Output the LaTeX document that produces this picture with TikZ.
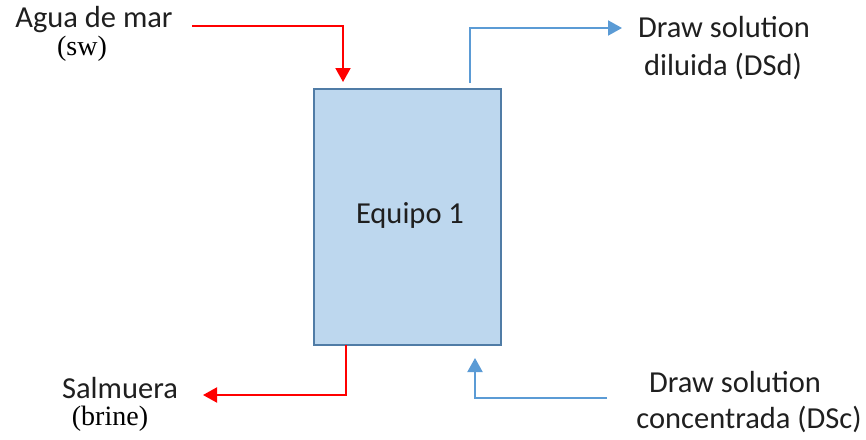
\documentclass[tikz,border=0pt]{standalone}
\usepackage{fontspec}
\setmainfont{Carlito}
\newfontfamily\timesfont{Liberation Serif}
\usetikzlibrary{arrows.meta}
\definecolor{redline}{RGB}{255,0,0}
\definecolor{blueline}{RGB}{91,155,213}
\definecolor{boxfill}{RGB}{189,215,238}
\definecolor{boxdraw}{RGB}{80,124,166}
\begin{document}
\begin{tikzpicture}[x=1pt,y=-1pt,
  sans/.style={font=\fontsize{30.5}{34}\selectfont, anchor=base, inner sep=0pt, text=black!88},
  serif/.style={font=\timesfont\fontsize{28}{32}\selectfont, anchor=base, inner sep=0pt},
  redarrow/.style={draw=redline, line width=2pt, -{Triangle[width=15pt,length=14pt]}},
  bluearrow/.style={draw=blueline, line width=2pt, -{Triangle[width=15pt,length=14pt]}},
  equip/.style={draw=boxdraw, fill=boxfill, line width=2pt, minimum width=187pt, minimum height=256pt, inner sep=0pt}
]
\useasboundingbox (0,0) rectangle (866,439);
\node[equip] (box) at (407.5,217) {};
\node[sans] (eq) at (410,223) {Equipo 1};
\node[sans] (agua) at (94,27) {Agua de mar};
\node[serif] (sw) at (82,55) {(sw)};
\node[sans] (ds1) at (724,37) {Draw solution};
\node[sans] (dsd) at (723,75) {diluida (DSd)};
\node[sans] (salm) at (120,398) {Salmuera};
\node[serif] (brine) at (110,425) {(brine)};
\node[sans] (ds2) at (735,392) {Draw solution};
\node[sans] (dsc) at (749,428) {concentrada (DSc)};
% red in
\coordinate (swS) at (192,26);
\coordinate (swE) at (343,82);
\draw[redarrow] (swS) -| (swE);
% blue out
\coordinate (dsdS) at (470,83);
\coordinate (dsdE) at (622,28);
\draw[bluearrow] (dsdS) |- (dsdE);
% red out
\coordinate (brS) at (346,345);
\coordinate (brE) at (203,395);
\draw[redarrow] (brS) |- (brE);
% blue in
\coordinate (dscS) at (607,398);
\coordinate (dscE) at (475,358);
\draw[bluearrow] (dscS) -| (dscE);
\end{tikzpicture}
\end{document}
